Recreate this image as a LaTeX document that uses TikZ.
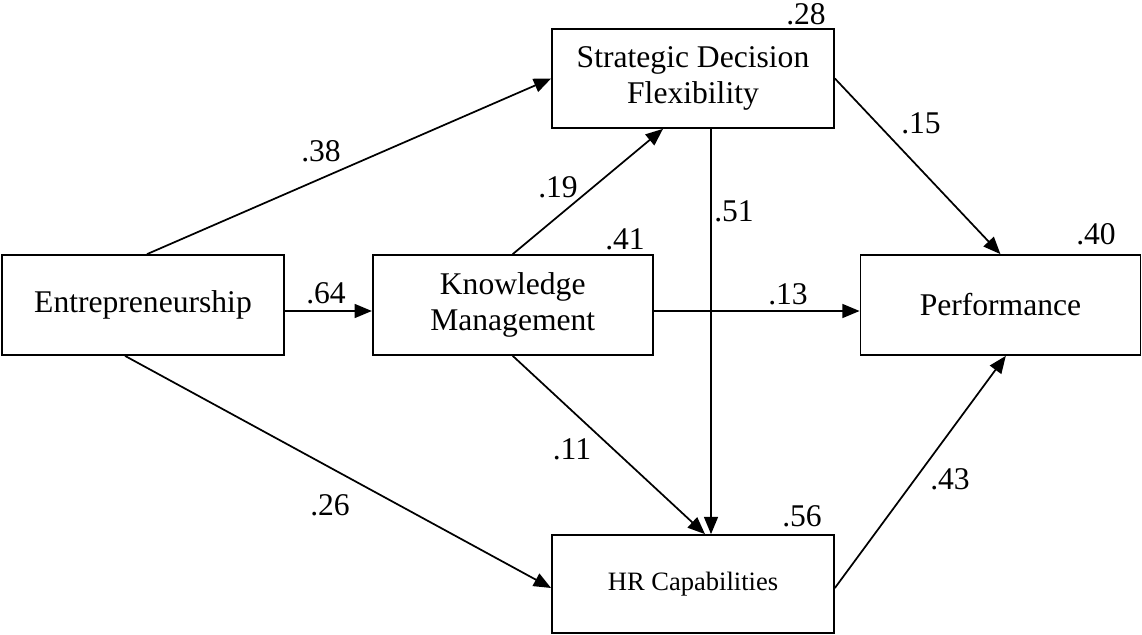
\documentclass[tikz,border=0pt]{standalone}
\usepackage{fontspec}
\setmainfont{Liberation Serif}
\usetikzlibrary{positioning, arrows.meta}

\begin{document}
\begin{tikzpicture}[x=0.75pt, y=-0.75pt,
      box/.style={draw, line width=1.3pt, minimum width=211.5pt, minimum height=75pt,
                  font=\fontsize{23.7}{27.5}\selectfont, align=center, inner sep=2pt},
      coef/.style={font=\fontsize{23.7}{27.5}\selectfont, inner sep=0pt},
      arr/.style={-{Triangle[length=13pt, width=10.5pt]}, line width=1.3pt}]
    \useasboundingbox (0,0) rectangle (1142,635);
    \node[box] (ent) at (143,305) {Entrepreneurship};
    \node[box, minimum width=210pt, right=65.25pt of ent] (km) {Knowledge\\Management};
    \node[box, minimum width=210pt, right=154.5pt of km] (perf) {Performance};
    \node[box, minimum height=74.25pt] (sdf) at (693,78.5) {Strategic Decision\\Flexibility};
    \node[box, minimum height=73.5pt, font=\fontsize{19.9}{23}\selectfont] (hr) at (693,584) {HR Capabilities};
    % paths
    \draw[arr] ([xshift=3pt]ent.north) -- (sdf.west);
    \draw[arr] ([yshift=-4.5pt]ent.east) -- ([yshift=-4.5pt]km.west);
    \draw[arr] ([xshift=-13.5pt]ent.south) -- ([yshift=-3pt]hr.west);
    \draw[arr] (km.north) -- ([xshift=-22.5pt]sdf.south);
    \draw[arr] ([yshift=-4.5pt]km.east) -- ([yshift=-4.5pt]perf.west);
    \draw[arr] (km.south) -- ([xshift=9pt]hr.north);
    \draw[arr] ([xshift=13.5pt]sdf.south) -- ([xshift=13.5pt]hr.north);
    \draw[arr] (sdf.east) -- (perf.north);
    \draw[arr] ([yshift=-3pt]hr.east) -- ([xshift=4pt]perf.south);
    % path coefficients
    \node[coef] (c38) at (321,151.5) {.38};
    \node[coef] (c19) at (558,187) {.19};
    \node[coef] (c64) at (326,293) {.64};
    \node[coef] (c13) at (788,294) {.13};
    \node[coef] (c11) at (572,449) {.11};
    \node[coef] (c26) at (330,505) {.26};
    \node[coef] (c51) at (734,211) {.51};
    \node[coef] (c15) at (921,123) {.15};
    \node[coef] (c43) at (950,479) {.43};
    % explained variance
    \node[coef] (r41) at (625,239) {.41};
    \node[coef] (r28) at (806,14) {.28};
    \node[coef] (r40) at (1096,234) {.40};
    \node[coef] (r56) at (802,516) {.56};
\end{tikzpicture}
\end{document}
